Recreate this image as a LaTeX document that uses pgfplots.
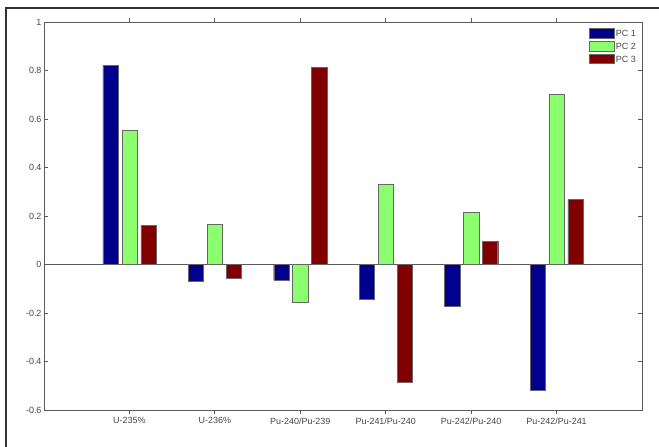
\documentclass[border=0pt]{standalone}
\usepackage{pgfplots}
\pgfplotsset{compat=1.18}
\usepackage{fontspec}
\setmainfont{Liberation Sans}
\definecolor{pcone}{RGB}{0,0,140}
\definecolor{pctwo}{RGB}{140,255,110}
\definecolor{pcthree}{RGB}{128,0,0}
\definecolor{axgray}{RGB}{90,90,90}
\definecolor{txtgray}{RGB}{70,70,70}
\begin{document}
\begin{tikzpicture}[x=1bp,y=1bp]
\useasboundingbox (0,0) rectangle (659,447);
\draw[line width=2bp, black!80] (6,0) -- (6,439) -- (659,439);
\begin{axis}[
  at={(44bp,37bp)}, anchor=south west,
  scale only axis, width=598bp, height=388bp,
  xmin=0, xmax=7, ymin=-0.6, ymax=1,
  xtick={1,2,3,4,5,6},
  xticklabels={U-235\%,U-236\%,Pu-240/Pu-239,Pu-241/Pu-240,Pu-242/Pu-240,Pu-242/Pu-241},
  ytick={-0.6,-0.4,-0.2,0,0.2,0.4,0.6,0.8,1},
  yticklabels={-0.6,-0.4,-0.2,0,0.2,0.4,0.6,0.8,1},
  tick align=inside, major tick length=4bp,
  axis line style={axgray, line width=0.8bp},
  every tick/.style={axgray, line width=0.8bp},
  tick label style={font=\fontsize{9}{10}\selectfont, text=txtgray},
  yticklabel style={xshift=1bp},
  ybar, bar width=0.178,
  legend style={at={(1,1)}, anchor=north east, xshift=-6bp, yshift=-6bp, draw=none, fill=none,
    font=\fontsize{9}{10}\selectfont, text=txtgray, row sep=3bp, column sep=1.5bp, inner sep=0pt,
    nodes={inner sep=0pt, text height=6.5bp, text depth=0bp, anchor=west}},
  legend cell align=left,
  legend image code/.code={\draw[#1] (0bp,-4.75bp) rectangle (25bp,4.75bp);},
]
\draw[axgray, line width=0.8bp] (axis cs:0,0) -- (axis cs:7,0);
\addplot[fill=pcone, draw=black!60, bar shift=-0.222] coordinates {(1,0.821) (2,-0.069) (3,-0.063) (4,-0.144) (5,-0.172) (6,-0.519)};
\addplot[fill=pctwo, draw=black!60, bar shift=0] coordinates {(1,0.552) (2,0.166) (3,-0.156) (4,0.332) (5,0.216) (6,0.703)};
\addplot[fill=pcthree, draw=black!60, bar shift=0.222] coordinates {(1,0.162) (2,-0.058) (3,0.812) (4,-0.485) (5,0.096) (6,0.269)};
\legend{PC 1,PC 2,PC 3}
\end{axis}
\end{tikzpicture}
\end{document}
